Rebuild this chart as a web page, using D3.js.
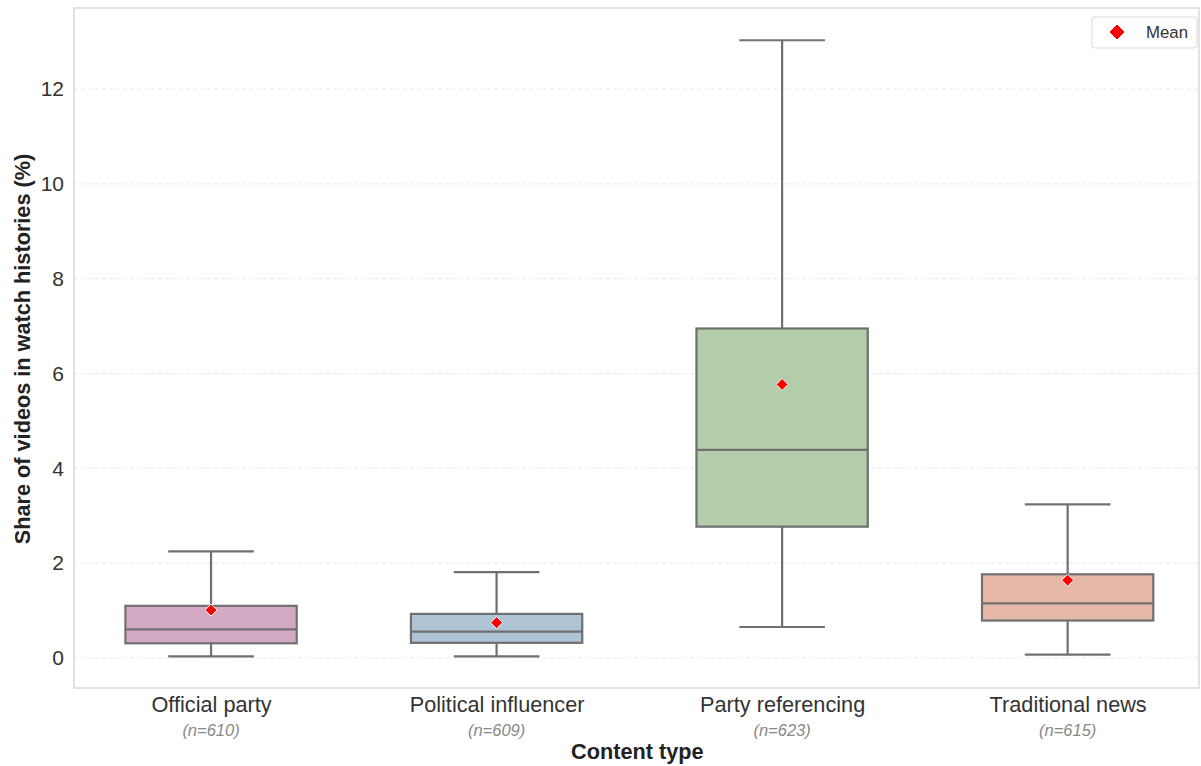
<!DOCTYPE html>
<html><head><meta charset="utf-8">
<script src="https://cdn.jsdelivr.net/npm/d3@7"></script>
<style>body{margin:0;background:#fff;font-family:"Liberation Sans",Arial,sans-serif;}</style>
</head><body><svg id="c" width="1201" height="766"></svg>
<script>
const categories = ["Official party","Political influencer","Party referencing","Traditional news"];
const counts = [610, 609, 623, 615];
const whiskerLow = [0.035, 0.035, 0.654, 0.07];
const q1 = [0.31, 0.32, 2.77, 0.79];
const median = [0.605, 0.555, 4.39, 1.15];
const q3 = [1.10, 0.93, 6.95, 1.765];
const whiskerHigh = [2.25, 1.81, 13.03, 3.24];
const means = [1.01, 0.745, 5.77, 1.64];
const colors = ["#d4a9c4","#aec3d3","#b3cdaa","#e5b8a8"];
const yTicks = [0,2,4,6,8,10,12];

const svg = d3.select("#c");
const L=74, R=1199, T=8, B=688;
const x = d3.scaleLinear().domain([-0.48, 3.46]).range([L, R]);
const y = d3.scaleLinear().domain([-0.633, 13.71]).range([B, T]);
const boxW = x(0.6) - x(0);
const capW = x(0.3) - x(0);

// grid
svg.append("g").selectAll("line").data(yTicks).join("line")
  .attr("x1",L).attr("x2",R).attr("y1",d=>y(d)).attr("y2",d=>y(d))
  .attr("stroke","#e3e3e3").attr("stroke-width",0.8).attr("stroke-dasharray","4,3");

// frame
svg.append("rect").attr("x",L).attr("y",T).attr("width",R-L).attr("height",B-T)
  .attr("fill","none").attr("stroke","#cfcfcf").attr("stroke-width",1.2);

// y axis ticks labels
const yAxis = d3.axisLeft(y).tickValues(yTicks).tickSize(0).tickPadding(10);
const ga = svg.append("g").attr("transform",`translate(${L},0)`).call(yAxis);
ga.select(".domain").remove();
ga.selectAll("text").attr("font-size",21).attr("fill","#333").attr("font-family","Liberation Sans, Arial, sans-serif");

// x axis labels
const xa = d3.axisBottom(x).tickValues([0,1,2,3]).tickFormat(i=>categories[i]).tickSize(0).tickPadding(9);
const gx = svg.append("g").attr("transform",`translate(0,${B})`).call(xa);
gx.select(".domain").remove();
gx.selectAll("text").attr("font-size",21.7).attr("fill","#333").attr("font-family","Liberation Sans, Arial, sans-serif");

svg.append("g").selectAll("text").data(counts).join("text")
  .attr("x",(d,i)=>x(i)).attr("y",736).attr("text-anchor","middle")
  .attr("font-size",16.5).attr("font-style","italic").attr("fill","#888")
  .text(d=>`(n=${d})`);

svg.append("text").attr("x",x(1.5)-2).attr("y",759).attr("text-anchor","middle")
  .attr("font-size",21.7).attr("font-weight","bold").attr("fill","#222").text("Content type");

svg.append("text").attr("transform",`translate(30,${(T+B)/2+1}) rotate(-90)`)
  .attr("text-anchor","middle").attr("font-size",21.7).attr("font-weight","bold").attr("fill","#222")
  .text("Share of videos in watch histories (%)");

// boxes
const st = "#707070", sw = 2.2;
const g = svg.append("g");
categories.forEach((c,i)=>{
  const cx = x(i);
  g.append("line").attr("x1",cx).attr("x2",cx).attr("y1",y(q3[i])).attr("y2",y(whiskerHigh[i])).attr("stroke",st).attr("stroke-width",sw);
  g.append("line").attr("x1",cx).attr("x2",cx).attr("y1",y(q1[i])).attr("y2",y(whiskerLow[i])).attr("stroke",st).attr("stroke-width",sw);
  g.append("line").attr("x1",cx-capW/2).attr("x2",cx+capW/2).attr("y1",y(whiskerHigh[i])).attr("y2",y(whiskerHigh[i])).attr("stroke",st).attr("stroke-width",sw);
  g.append("line").attr("x1",cx-capW/2).attr("x2",cx+capW/2).attr("y1",y(whiskerLow[i])).attr("y2",y(whiskerLow[i])).attr("stroke",st).attr("stroke-width",sw);
  g.append("rect").attr("x",cx-boxW/2).attr("y",y(q3[i])).attr("width",boxW).attr("height",y(q1[i])-y(q3[i]))
    .attr("fill",colors[i]).attr("stroke",st).attr("stroke-width",sw);
  g.append("line").attr("x1",cx-boxW/2).attr("x2",cx+boxW/2).attr("y1",y(median[i])).attr("y2",y(median[i])).attr("stroke",st).attr("stroke-width",sw);
});

// means
const diamond = (cx,cy,r)=>`M${cx},${cy-r}L${cx+r},${cy}L${cx},${cy+r}L${cx-r},${cy}Z`;
svg.append("g").selectAll("path").data(means).join("path")
  .attr("d",(d,i)=>diamond(x(i),y(d),6)).attr("fill","#ff0000").attr("stroke","#fff").attr("stroke-width",1);

// legend
svg.append("rect").attr("x",1092).attr("y",17).attr("width",105).attr("height",31).attr("rx",3)
  .attr("fill","#fff").attr("stroke","#d8d8d8").attr("stroke-width",1);
svg.append("path").attr("d",diamond(1117,32,8)).attr("fill","#ff0000").attr("stroke","#fff").attr("stroke-width",1);
svg.append("text").attr("x",1146).attr("y",38).attr("font-size",16.8).attr("fill","#333").text("Mean");
</script></body></html>
